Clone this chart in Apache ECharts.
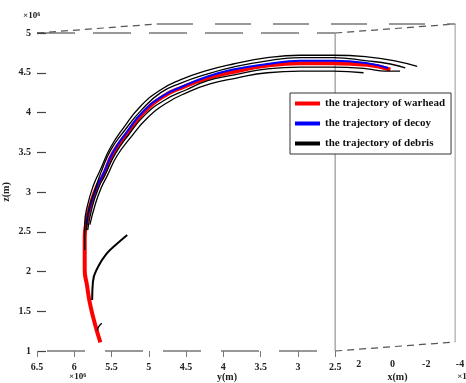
<!DOCTYPE html>
<html>
<head>
<meta charset="utf-8">
<script src="https://cdn.jsdelivr.net/npm/echarts@6/dist/echarts.min.js"></script>
<style>
  html, body { margin: 0; padding: 0; background: #fff; }
  #main { width: 466px; height: 383px; }
</style>
</head>
<body>
<div id="main"></div>
<script>
// y(m) / z(m) values, both in units of 10^6 m
const warheadY = [5.65, 5.72, 5.79, 5.83, 5.86, 5.86, 5.86, 5.83, 5.79, 5.70, 5.61, 5.48, 5.29, 5.08, 4.81, 4.54, 4.22, 3.87, 3.41, 2.97, 2.53, 2.07, 1.76]
const warheadZ = [1.11, 1.33, 1.60, 1.83, 2.02, 2.21, 2.43, 2.65, 2.81, 3.06, 3.21, 3.49, 3.74, 3.99, 4.20, 4.32, 4.43, 4.51, 4.59, 4.62, 4.62, 4.60, 4.54]

const decoyY = [5.84, 5.79, 5.70, 5.61, 5.48, 5.29, 5.08, 4.81, 4.54, 4.22, 3.87, 3.41, 2.97, 2.53, 2.07, 1.79]
const decoyZ = [2.59, 2.81, 3.06, 3.23, 3.50, 3.76, 4.01, 4.21, 4.33, 4.45, 4.54, 4.61, 4.65, 4.65, 4.62, 4.56]

const debris1Y = [5.86, 5.86, 5.82, 5.74, 5.65, 5.52, 5.33, 5.12, 4.85, 4.58, 4.25, 3.87, 3.41, 2.97, 2.53, 2.07, 1.70, 1.40]
const debris1Z = [2.27, 2.59, 2.84, 3.09, 3.28, 3.55, 3.82, 4.07, 4.28, 4.41, 4.52, 4.61, 4.69, 4.72, 4.72, 4.70, 4.65, 4.58]

const debris2Y = [5.84, 5.80, 5.71, 5.64, 5.51, 5.32, 5.10, 4.84, 4.57, 4.23, 3.87, 3.41, 2.97, 2.53, 2.07, 1.76, 1.56]
const debris2Z = [2.52, 2.80, 3.06, 3.25, 3.53, 3.78, 4.03, 4.25, 4.37, 4.48, 4.57, 4.65, 4.69, 4.69, 4.65, 4.61, 4.56]

const debris3Y = [5.82, 5.76, 5.67, 5.59, 5.45, 5.27, 5.05, 4.78, 4.51, 4.21, 3.87, 3.41, 2.97, 2.53, 2.07, 1.83, 1.63]
const debris3Z = [2.52, 2.81, 3.06, 3.21, 3.48, 3.72, 3.97, 4.16, 4.28, 4.40, 4.47, 4.55, 4.57, 4.57, 4.55, 4.52, 4.52]

const debris4Y = [5.79, 5.72, 5.64, 5.56, 5.43, 5.24, 5.02, 4.76, 4.49, 4.18, 3.84, 3.41, 2.97, 2.53, 2.12]
const debris4Z = [2.59, 2.84, 3.05, 3.20, 3.45, 3.69, 3.93, 4.12, 4.25, 4.36, 4.43, 4.50, 4.52, 4.52, 4.50]

const branchY = [5.76, 5.75, 5.68, 5.56, 5.45, 5.29]
const branchZ = [1.64, 1.87, 2.06, 2.23, 2.33, 2.46]

const hookY = [5.69, 5.67, 5.63]
const hookZ = [1.26, 1.31, 1.35]

// tick labels
const yTicks = [2.5, 3, 3.5, 4, 4.5, 5, 5.5, 6, 6.5]
const xTicks = [2, 0, -2, -4]

const legendNames = ['the trajectory of warhead', 'the trajectory of decoy', 'the trajectory of debris']

const chart = echarts.init(document.getElementById('main'))
const font = 'Liberation Serif'
const zip = (a, b) => a.map((v, i) => [v, b[i]])

const labelStyle = { fontFamily: font, fontWeight: 'bold', fontSize: 10, color: '#222' }

// one curve of the trajectory
function curve(name, ys, zs, color, width) {
  return {
    name: name,
    type: 'line',
    xAxisIndex: 0,
    yAxisIndex: 0,
    data: zip(ys, zs),
    smooth: true,
    showSymbol: false,
    symbol: 'none',
    clip: false,
    color: color,
    lineStyle: { color: color, width: width },
    silent: true
  }
}

const option = {
  animation: false,
  backgroundColor: '#fff',
  grid: [
    // y axis runs 6.5 -> 2.5 on the front face, the plot goes on past it into the depth
    { left: 37, right: 19, top: 33, bottom: 32, outerBoundsMode: 'none' },
    { left: 335, right: 6, top: 24, bottom: 35, outerBoundsMode: 'none' }
  ],
  legend: {
    data: legendNames,
    orient: 'vertical',
    left: 290,
    top: 93,
    icon: 'rect',
    itemWidth: 25,
    itemHeight: 4,
    itemGap: 9,
    padding: [5, 6, 5, 5],
    borderColor: '#333',
    borderWidth: 1,
    backgroundColor: '#fff',
    textStyle: { fontFamily: font, fontWeight: 'bold', fontSize: 11, color: '#111' }
  },
  xAxis: [{
    type: 'value',
    gridIndex: 0,
    min: 1,
    max: 6.5,
    interval: 0.5,
    inverse: true,
    name: 'y(m)',
    nameLocation: 'middle',
    nameGap: 21,
    nameMoveOverlap: false,
    nameTextStyle: { fontFamily: font, fontWeight: 'bold', fontSize: 10, color: '#222', padding: [0, 30, 0, 0] },
    axisLine: { show: false },
    axisTick: { show: true, length: 6, customValues: yTicks, lineStyle: { color: '#777' } },
    axisLabel: Object.assign({ margin: 11, customValues: yTicks }, labelStyle),
    splitLine: { show: false }
  }, {
    type: 'value',
    gridIndex: 1,
    min: -4,
    max: 3.4,
    interval: 2,
    inverse: true,
    name: 'x(m)',
    nameLocation: 'middle',
    nameGap: 24,
    nameMoveOverlap: false,
    nameTextStyle: { fontFamily: font, fontWeight: 'bold', fontSize: 10, color: '#222' },
    axisLine: { show: false },
    axisTick: { show: false },
    axisLabel: Object.assign({ margin: 11, customValues: xTicks }, labelStyle),
    splitLine: { show: false }
  }],
  yAxis: [{
    type: 'value',
    gridIndex: 0,
    min: 1,
    max: 5,
    interval: 0.5,
    name: 'z(m)',
    nameLocation: 'middle',
    nameGap: 26,
    nameMoveOverlap: false,
    nameTextStyle: { fontFamily: font, fontWeight: 'bold', fontSize: 10, color: '#222' },
    axisLine: { show: false },
    axisTick: { show: true, inside: true, length: 9, lineStyle: { color: '#444', width: 1.2 } },
    axisLabel: Object.assign({ margin: 6 }, labelStyle),
    splitLine: { show: false }
  }, {
    type: 'value',
    gridIndex: 1,
    min: 0,
    max: 1,
    show: false
  }],
  series: [
    curve(legendNames[0], warheadY, warheadZ, '#ff0000', 4),
    curve(legendNames[1], decoyY, decoyZ, '#0000ff', 2),
    curve(legendNames[2], debris1Y, debris1Z, '#000000', 1.3),
    curve(legendNames[2], debris2Y, debris2Z, '#000000', 1.3),
    curve(legendNames[2], debris3Y, debris3Z, '#000000', 1.3),
    curve(legendNames[2], debris4Y, debris4Z, '#000000', 1.3),
    curve(legendNames[2], branchY, branchZ, '#000000', 2),
    curve(legendNames[2], hookY, hookZ, '#000000', 1.3)
  ]
}
chart.setOption(option)

// the rest of the 3D box, placed from the axis corners
const px = v => chart.convertToPixel({ xAxisIndex: 0, yAxisIndex: 0 }, v)
const depth = [120, -9]
const back = p => [p[0] + depth[0], p[1] + depth[1]]
const leftTop = px([6.5, 5])
const rightTop = px([2.5, 5])
const rightBottom = px([2.5, 1])
const leftBottom = px([6.5, 1])

function seg(a, b, color, dash, width) {
  return {
    type: 'line',
    silent: true,
    z: 0,
    shape: { x1: a[0], y1: a[1], x2: b[0], y2: b[1] },
    style: { stroke: color, lineWidth: width || 1, lineDash: dash || null }
  }
}
function note(x, y, text) {
  return {
    type: 'text',
    silent: true,
    x: x,
    y: y,
    style: {
      text: text,
      fill: '#222',
      font: 'bold 9px "Liberation Serif"',
      rich: { s: { fontFamily: font, fontWeight: 'bold', fontSize: 6, verticalAlign: 'top', padding: [0, 0, 4, 0] } }
    }
  }
}

chart.setOption({
  graphic: [
    seg([leftBottom[0] + 10, leftBottom[1]], rightBottom, '#777', [38, 20], 1.5),
    seg(leftTop, rightTop, '#777', [38, 18], 1.5),
    seg(rightBottom, rightTop, '#aaa', null, 1.5),
    seg(back(rightBottom), back(rightTop), '#bbb', null, 1.5),
    seg(rightBottom, back(rightBottom), '#555', [7, 5], 1.2),
    seg(rightTop, back(rightTop), '#555', [7, 5], 1.2),
    seg(leftTop, back(leftTop), '#555', [7, 5], 1.2),
    seg(back(leftTop), back(rightTop), '#777', [36, 22], 1.5),
    note(leftTop[0] - 14, leftTop[1] - 22, '×10{s|6}'),
    note(leftBottom[0] + 32, leftBottom[1] + 21, '×10{s|6}'),
    note(back(rightBottom)[0] + 2, rightBottom[1] + 21, '×10{s|6}')
  ]
})
</script>
</body>
</html>
